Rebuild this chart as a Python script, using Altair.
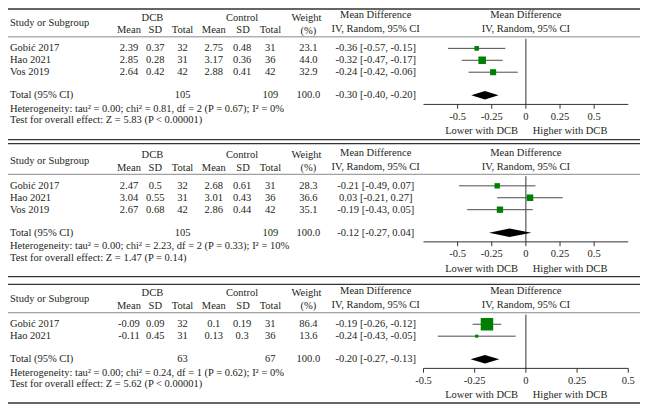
import altair as alt
import pandas as pd

# ------------------------------------------------------------------ data
P1_STUDIES = ["Gobić 2017", "Hao 2021", "Vos 2019"]
P1_DCB_MEAN = [2.39, 2.85, 2.64]
P1_DCB_SD = [0.37, 0.28, 0.42]
P1_DCB_N = [32, 31, 42]
P1_CTL_MEAN = [2.75, 3.17, 2.88]
P1_CTL_SD = [0.48, 0.36, 0.41]
P1_CTL_N = [31, 36, 42]
P1_WEIGHT = [23.1, 44.0, 32.9]
P1_MD = [-0.36, -0.32, -0.24]
P1_LO = [-0.57, -0.47, -0.42]
P1_HI = [-0.15, -0.17, -0.06]
P1_TOTAL_N = [105, 109]
P1_TOTAL_MD = [-0.30, -0.40, -0.20]
P1_HET = ["0.00", "0.81", "2", "0.67", "0"]
P1_Z = ["5.83", "< 0.00001"]

P2_STUDIES = ["Gobić 2017", "Hao 2021", "Vos 2019"]
P2_DCB_MEAN = [2.47, 3.04, 2.67]
P2_DCB_SD = [0.5, 0.55, 0.68]
P2_DCB_N = [32, 31, 42]
P2_CTL_MEAN = [2.68, 3.01, 2.86]
P2_CTL_SD = [0.61, 0.43, 0.44]
P2_CTL_N = [31, 36, 42]
P2_WEIGHT = [28.3, 36.6, 35.1]
P2_MD = [-0.21, 0.03, -0.19]
P2_LO = [-0.49, -0.21, -0.43]
P2_HI = [0.07, 0.27, 0.05]
P2_TOTAL_N = [105, 109]
P2_TOTAL_MD = [-0.12, -0.27, 0.04]
P2_HET = ["0.00", "2.23", "2", "0.33", "10"]
P2_Z = ["1.47", "= 0.14"]

P3_STUDIES = ["Gobić 2017", "Hao 2021"]
P3_DCB_MEAN = [-0.09, -0.11]
P3_DCB_SD = [0.09, 0.45]
P3_DCB_N = [32, 31]
P3_CTL_MEAN = [0.1, 0.13]
P3_CTL_SD = [0.19, 0.3]
P3_CTL_N = [31, 36]
P3_WEIGHT = [86.4, 13.6]
P3_MD = [-0.19, -0.24]
P3_LO = [-0.26, -0.43]
P3_HI = [-0.12, -0.05]
P3_TOTAL_N = [63, 67]
P3_TOTAL_MD = [-0.20, -0.27, -0.13]
P3_HET = ["0.00", "0.24", "1", "0.62", "0"]
P3_Z = ["5.62", "< 0.00001"]

TICKS = [-0.5, -0.25, 0, 0.25, 0.5]
TICK_LABELS = ["-0.5", "-0.25", "0", "0.25", "0.5"]
DOMAINS = [[-0.75, 0.75], [-0.75, 0.75], [-0.5, 0.5]]

# ------------------------------------------------------------------ layout
FONT = "Liberation Serif"
FS = 10.5
TXT = "#231f20"
W, H = 632, 397
RW, RH = 648, 413
XS = alt.Scale(domain=[0, RW], range=[0, W])
YS = alt.Scale(domain=[0, RH], range=[0, H])
OFFSETS = [0, 143, 287]
ROW0, ROWH = 42, 12.4


def fscale(dom):
    return alt.Scale(domain=dom, range=[426 * W / RW, 636 * W / RW])


panels = [
    (P1_STUDIES, P1_DCB_MEAN, P1_DCB_SD, P1_DCB_N, P1_CTL_MEAN, P1_CTL_SD, P1_CTL_N,
     P1_WEIGHT, P1_MD, P1_LO, P1_HI, P1_TOTAL_N, P1_TOTAL_MD, P1_HET, P1_Z),
    (P2_STUDIES, P2_DCB_MEAN, P2_DCB_SD, P2_DCB_N, P2_CTL_MEAN, P2_CTL_SD, P2_CTL_N,
     P2_WEIGHT, P2_MD, P2_LO, P2_HI, P2_TOTAL_N, P2_TOTAL_MD, P2_HET, P2_Z),
    (P3_STUDIES, P3_DCB_MEAN, P3_DCB_SD, P3_DCB_N, P3_CTL_MEAN, P3_CTL_SD, P3_CTL_N,
     P3_WEIGHT, P3_MD, P3_LO, P3_HI, P3_TOTAL_N, P3_TOTAL_MD, P3_HET, P3_Z),
]

left, center, right = [], [], []
layers = []
COLS = [124, 151, 179, 211, 240, 269, 308]
MDX = 377
FX = 531

for k, p in enumerate(panels):
    (st, dm, dsd, dn, cm, csd, cn, wt, md, lo, hi, tn, tmd, het, z) = p
    off = OFFSETS[k]
    n = len(st)
    # header
    left.append(("Study or Subgroup", 2, off + 16))
    for t, x, y in [("DCB", 148, 10), ("Control", 240, 10), ("Weight", 306, 10),
                    ("(%)", 308, 23.5), ("Mean", 124, 23), ("SD", 151, 23),
                    ("Total", 179, 23), ("Mean", 211, 23), ("SD", 241, 23),
                    ("Total", 269, 23), ("Mean Difference", MDX, 7.5),
                    ("IV, Random, 95% CI", MDX, 22), ("Mean Difference", FX, 7.5),
                    ("IV, Random, 95% CI", FX, 22)]:
        center.append((t, x, off + y))
    rows_y = [off + ROW0 + ROWH * i for i in range(n)]
    for i in range(n):
        y = rows_y[i]
        left.append((st[i], 2, y))
        vals = [str(dm[i]), str(dsd[i]), str(dn[i]), str(cm[i]), str(csd[i]),
                str(cn[i]), f"{wt[i]:.1f}"]
        for v, x in zip(vals, COLS):
            center.append((v, x, y))
        center.append((f"{md[i]:.2f} [{lo[i]:.2f}, {hi[i]:.2f}]", MDX, y))
    yt = rows_y[-1] + 24
    left.append(("Total (95% CI)", 2, yt))
    center.append((str(tn[0]), 179, yt))
    center.append((str(tn[1]), 269, yt))
    center.append((f"{sum(wt):.1f}", 308, yt))
    center.append((f"{tmd[0]:.2f} [{tmd[1]:.2f}, {tmd[2]:.2f}]", MDX, yt))
    left.append((f"Heterogeneity: tau² = {het[0]}; chi² = {het[1]}, df = {het[2]} "
                 f"(P = {het[3]}); I² = {het[4]}%", 2, yt + 14))
    left.append((f"Test for overall effect: Z = {z[0]} (P {z[1]})", 2, yt + 26))
    right.append(("Lower with DCB", 523, yt + 37.5))
    left.append(("Higher with DCB", 538, yt + 37.5))

    # forest plot
    sc = fscale(DOMAINS[k])
    axis_y = yt + 9.5
    df_ci = pd.DataFrame({"md": md, "lo": lo, "hi": hi, "w": wt, "y": rows_y})
    hh = 4.5
    df_dia = pd.DataFrame({"x": [tmd[1], tmd[0], tmd[2]],
                           "ya": [yt, yt - hh, yt], "yb": [yt, yt + hh, yt]})
    df_zero = pd.DataFrame({"x": [0], "y1": [off + 32], "y2": [axis_y]})
    df_axis = pd.DataFrame({"a": [DOMAINS[k][0]], "b": [DOMAINS[k][1]], "y": [axis_y]})
    df_ticks = pd.DataFrame({"t": TICKS, "label": TICK_LABELS,
                             "y1": [axis_y] * len(TICKS),
                             "y2": [axis_y + 4.5] * len(TICKS),
                             "yl": [yt + 22.5] * len(TICKS)})
    layers += [
        alt.Chart(df_zero).mark_rule(color="#333333", strokeWidth=1).encode(
            x=alt.X("x:Q", scale=sc, axis=None),
            y=alt.Y("y1:Q", scale=YS, axis=None), y2="y2:Q"),
        alt.Chart(df_axis).mark_rule(color="#333333", strokeWidth=1).encode(
            x=alt.X("a:Q", scale=sc, axis=None), x2="b:Q",
            y=alt.Y("y:Q", scale=YS, axis=None)),
        alt.Chart(df_ticks).mark_rule(color="#333333", strokeWidth=1).encode(
            x=alt.X("t:Q", scale=sc, axis=None),
            y=alt.Y("y1:Q", scale=YS, axis=None), y2="y2:Q"),
        alt.Chart(df_ticks).mark_text(align="center", baseline="middle", font=FONT,
                                      fontSize=FS, color=TXT).encode(
            x=alt.X("t:Q", scale=sc, axis=None),
            y=alt.Y("yl:Q", scale=YS, axis=None), text="label:N"),
        alt.Chart(df_ci).mark_rule(color="#4d4d4d", strokeWidth=1).encode(
            x=alt.X("lo:Q", scale=sc, axis=None), x2="hi:Q",
            y=alt.Y("y:Q", scale=YS, axis=None)),
        alt.Chart(df_ci).mark_square(filled=True, color="#008000", opacity=1).encode(
            x=alt.X("md:Q", scale=sc, axis=None),
            y=alt.Y("y:Q", scale=YS, axis=None),
            size=alt.Size("w:Q", scale=alt.Scale(type="pow", exponent=1.5,
                                                 domain=[0, 100], range=[0, 194]),
                          legend=None)),
        alt.Chart(df_dia).mark_area(color="black", orient="vertical", opacity=1).encode(
            x=alt.X("x:Q", scale=sc, axis=None),
            y=alt.Y("ya:Q", scale=YS, axis=None), y2="yb:Q"),
    ]

df_lines = pd.DataFrame({
    "y": [1, 30, 137, 141, 173, 279.5, 287.5, 317, 411],
    "c": ["#333333", "#8a8a8a", "#333333", "#333333", "#8a8a8a",
          "#333333", "#333333", "#8a8a8a", "#333333"],
    "w": [1.5, 1, 1.2, 1.2, 1, 1.2, 1.2, 1, 1.5],
})
lines = alt.Chart(df_lines).mark_rule().encode(
    x=alt.value(0), x2=alt.value(W),
    y=alt.Y("y:Q", scale=YS, axis=None),
    color=alt.Color("c:N", scale=None),
    strokeWidth=alt.StrokeWidth("w:Q", scale=None))


def text_layer(items, align):
    df = pd.DataFrame(items, columns=["text", "x", "y"])
    return alt.Chart(df).mark_text(align=align, baseline="middle", font=FONT,
                                   fontSize=FS, color=TXT).encode(
        x=alt.X("x:Q", scale=XS, axis=None),
        y=alt.Y("y:Q", scale=YS, axis=None),
        text="text:N")


layers = [lines, text_layer(left, "left"), text_layer(center, "center"),
          text_layer(right, "right")] + layers

chart = alt.layer(*layers).resolve_scale(x="independent").properties(
    width=W, height=H, padding=0,
    autosize=alt.AutoSizeParams(type="none"),
).configure_view(stroke=None)

chart.save("out.html", embed_options={"renderer": "svg", "actions": False})
